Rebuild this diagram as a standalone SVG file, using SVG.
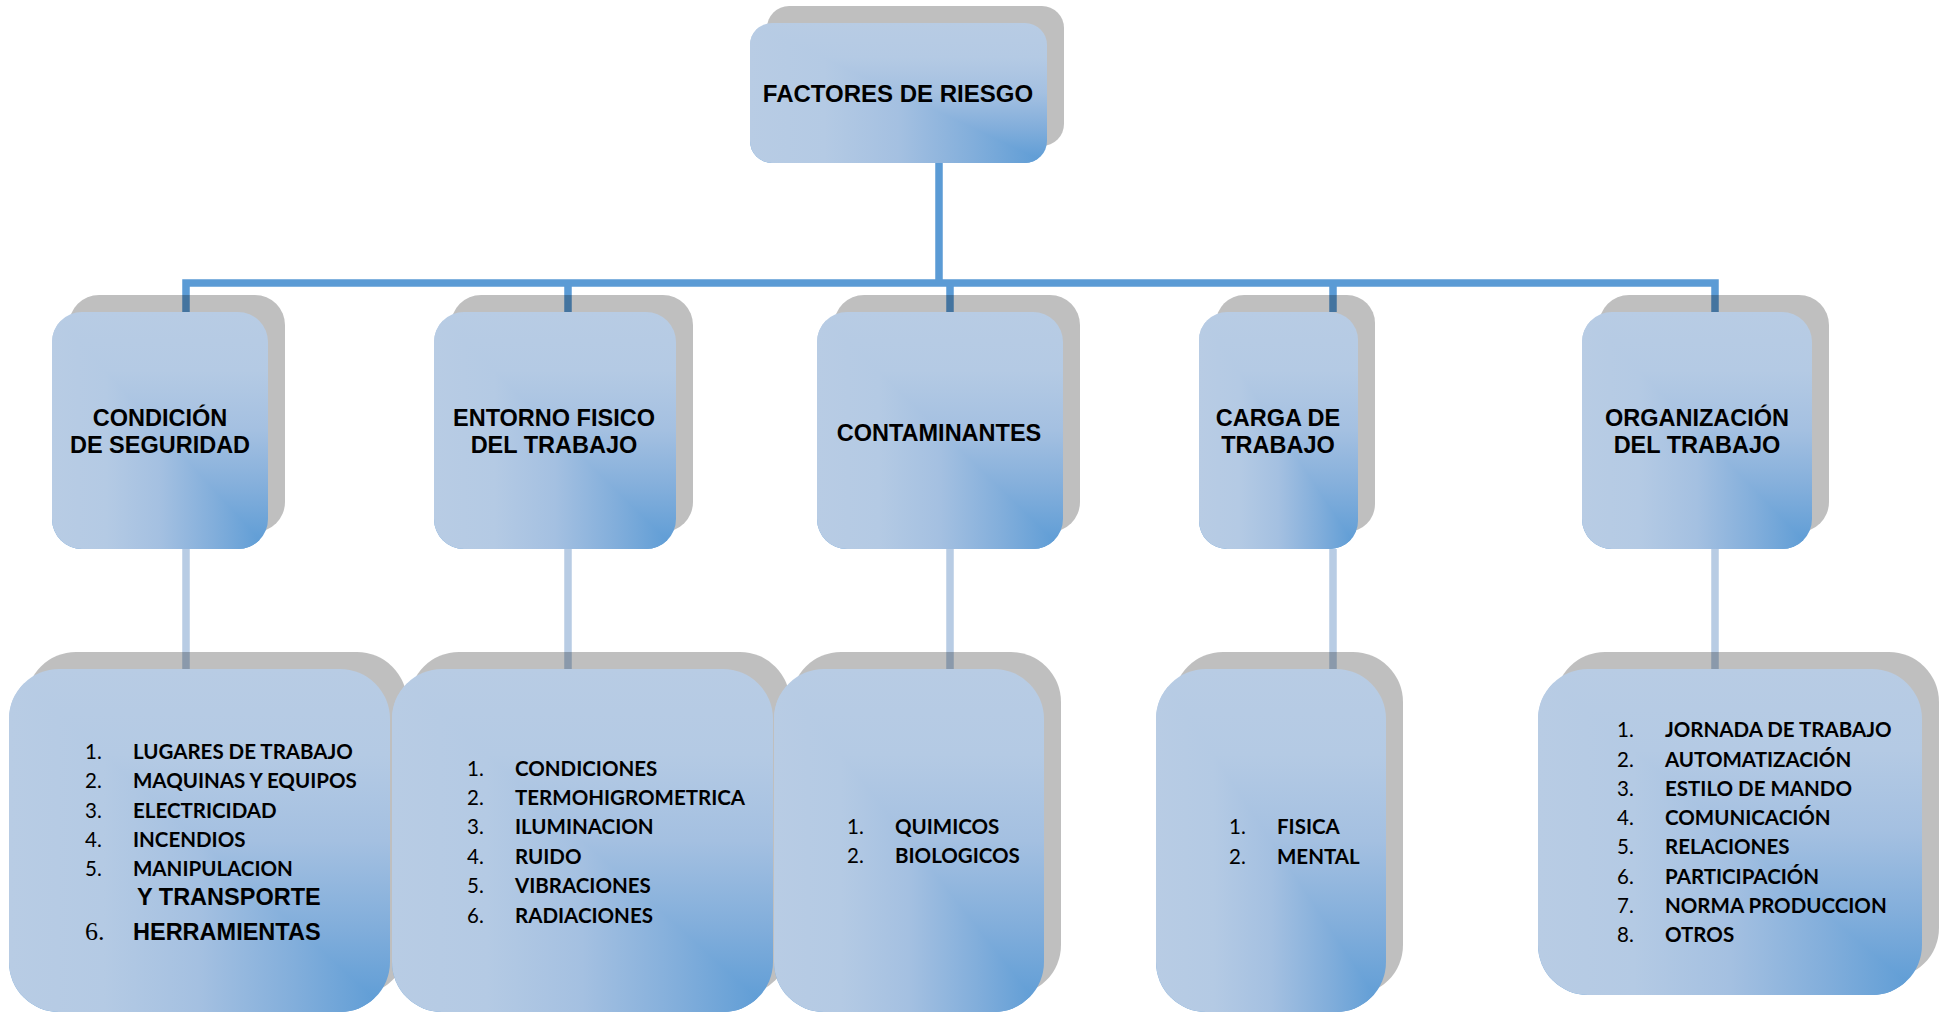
<svg xmlns="http://www.w3.org/2000/svg" width="1944" height="1013" viewBox="0 0 1944 1013">
<style>
.sh{fill:#000;fill-opacity:0.25}
.fv{fill:url(#gv)}
.fh{fill:url(#gh)}
.t{font-family:"Liberation Sans",Arial,sans-serif;font-weight:bold;font-size:23.5px;fill:#000;text-anchor:middle}
.li{font-family:Lato,"Noto Sans",sans-serif;font-weight:bold;font-size:20.5px;fill:#000}
.nu{font-family:Lato,"Noto Sans",sans-serif;font-size:20.5px;fill:#000}
.big{font-family:"Liberation Sans",Arial,sans-serif;font-weight:bold;font-size:23.5px;fill:#000}
.c1{fill:none;stroke:#5b9bd5;stroke-width:7.5}
.c2{fill:none;stroke:#b8cce4;stroke-width:7.5}
</style>
<defs>
<linearGradient id="gh" x1="0" y1="0" x2="1" y2="0">
<stop offset="0" stop-color="#b8cce4"/><stop offset="0.25" stop-color="#b4cae4"/><stop offset="0.5" stop-color="#a4c0e1"/><stop offset="0.75" stop-color="#82aedb"/><stop offset="1" stop-color="#5b9bd5"/>
</linearGradient>
<linearGradient id="gv" x1="0" y1="0" x2="0" y2="1">
<stop offset="0" stop-color="#b8cce4"/><stop offset="0.25" stop-color="#b4cae4"/><stop offset="0.5" stop-color="#a4c0e1"/><stop offset="0.75" stop-color="#82aedb"/><stop offset="1" stop-color="#5b9bd5"/>
</linearGradient>
<clipPath id="ll" clipPathUnits="objectBoundingBox"><polygon points="0,0 1,1 0,1"/></clipPath>
</defs>
<rect width="1944" height="1013" fill="#fff"/>
<g id="connectors">
<path class="c1" d="M939 163V283M186 312V283H1715V312M568 283V312M950 283V312M1333 283V312"/>
<path class="c2" d="M186 549V670M568 549V670M950 549V670M1333 549V670M1715 549V670"/>
</g>
<g id="n-factores">
<rect class="sh" x="767" y="6" width="297" height="140" rx="22"/>
<rect class="fv" x="750" y="23" width="297" height="140" rx="22"/>
<rect class="fh" x="750" y="23" width="297" height="140" rx="22" clip-path="url(#ll)"/>
<text class="t" x="898" y="102" style="font-size:24px">FACTORES DE RIESGO</text>
</g>
<g id="n-condicion">
<rect class="sh" x="69" y="295" width="216" height="237" rx="30"/>
<rect class="fv" x="52" y="312" width="216" height="237" rx="30"/>
<rect class="fh" x="52" y="312" width="216" height="237" rx="30" clip-path="url(#ll)"/>
<text class="t" x="160" y="426">CONDICIÓN</text>
<text class="t" x="160" y="453">DE SEGURIDAD</text>
</g>
<g id="n-entorno">
<rect class="sh" x="451" y="295" width="242" height="237" rx="30"/>
<rect class="fv" x="434" y="312" width="242" height="237" rx="30"/>
<rect class="fh" x="434" y="312" width="242" height="237" rx="30" clip-path="url(#ll)"/>
<text class="t" x="554" y="426">ENTORNO FISICO</text>
<text class="t" x="554" y="453">DEL TRABAJO</text>
</g>
<g id="n-contaminantes">
<rect class="sh" x="834" y="295" width="246" height="237" rx="30"/>
<rect class="fv" x="817" y="312" width="246" height="237" rx="30"/>
<rect class="fh" x="817" y="312" width="246" height="237" rx="30" clip-path="url(#ll)"/>
<text class="t" x="939" y="441">CONTAMINANTES</text>
</g>
<g id="n-carga">
<rect class="sh" x="1216" y="295" width="159" height="237" rx="28"/>
<rect class="fv" x="1199" y="312" width="159" height="237" rx="28"/>
<rect class="fh" x="1199" y="312" width="159" height="237" rx="28" clip-path="url(#ll)"/>
<text class="t" x="1278" y="426">CARGA DE</text>
<text class="t" x="1278" y="453">TRABAJO</text>
</g>
<g id="n-organizacion">
<rect class="sh" x="1599" y="295" width="230" height="237" rx="30"/>
<rect class="fv" x="1582" y="312" width="230" height="237" rx="30"/>
<rect class="fh" x="1582" y="312" width="230" height="237" rx="30" clip-path="url(#ll)"/>
<text class="t" x="1697" y="426">ORGANIZACIÓN</text>
<text class="t" x="1697" y="453">DEL TRABAJO</text>
</g>
<g id="l-condicion">
<rect class="sh" x="26" y="652" width="381" height="343" rx="50"/>
<rect class="fv" x="9" y="669" width="381" height="343" rx="50"/>
<rect class="fh" x="9" y="669" width="381" height="343" rx="50" clip-path="url(#ll)"/>
<text class="nu" x="85" y="759">1.</text><text class="li" x="133" y="759">LUGARES DE TRABAJO</text>
<text class="nu" x="85" y="788">2.</text><text class="li" x="133" y="788">MAQUINAS Y EQUIPOS</text>
<text class="nu" x="85" y="818">3.</text><text class="li" x="133" y="818">ELECTRICIDAD</text>
<text class="nu" x="85" y="847">4.</text><text class="li" x="133" y="847">INCENDIOS</text>
<text class="nu" x="85" y="876">5.</text><text class="li" x="133" y="876">MANIPULACION</text>
<text class="big" x="137" y="905">Y TRANSPORTE</text>
<text x="85" y="940" style="font-family:'Liberation Serif','Times New Roman',serif;font-size:26px;fill:#000">6.</text>
<text class="big" x="133" y="940">HERRAMIENTAS</text>
</g>
<g id="l-entorno">
<rect class="sh" x="409" y="652" width="381" height="343" rx="50"/>
<rect class="fv" x="392" y="669" width="381" height="343" rx="50"/>
<rect class="fh" x="392" y="669" width="381" height="343" rx="50" clip-path="url(#ll)"/>
<text class="nu" x="467" y="776">1.</text><text class="li" x="515" y="776">CONDICIONES</text>
<text class="nu" x="467" y="805">2.</text><text class="li" x="515" y="805">TERMOHIGROMETRICA</text>
<text class="nu" x="467" y="834">3.</text><text class="li" x="515" y="834">ILUMINACION</text>
<text class="nu" x="467" y="864">4.</text><text class="li" x="515" y="864">RUIDO</text>
<text class="nu" x="467" y="893">5.</text><text class="li" x="515" y="893">VIBRACIONES</text>
<text class="nu" x="467" y="923">6.</text><text class="li" x="515" y="923">RADIACIONES</text>
</g>
<g id="l-contaminantes">
<rect class="sh" x="791" y="652" width="270" height="343" rx="50"/>
<rect class="fv" x="774" y="669" width="270" height="343" rx="50"/>
<rect class="fh" x="774" y="669" width="270" height="343" rx="50" clip-path="url(#ll)"/>
<text class="nu" x="847" y="834">1.</text><text class="li" x="895" y="834">QUIMICOS</text>
<text class="nu" x="847" y="863">2.</text><text class="li" x="895" y="863">BIOLOGICOS</text>
</g>
<g id="l-carga">
<rect class="sh" x="1173" y="652" width="230" height="343" rx="50"/>
<rect class="fv" x="1156" y="669" width="230" height="343" rx="50"/>
<rect class="fh" x="1156" y="669" width="230" height="343" rx="50" clip-path="url(#ll)"/>
<text class="nu" x="1229" y="834">1.</text><text class="li" x="1277" y="834">FISICA</text>
<text class="nu" x="1229" y="864">2.</text><text class="li" x="1277" y="864">MENTAL</text>
</g>
<g id="l-organizacion">
<rect class="sh" x="1555" y="652" width="384" height="326" rx="50"/>
<rect class="fv" x="1538" y="669" width="384" height="326" rx="50"/>
<rect class="fh" x="1538" y="669" width="384" height="326" rx="50" clip-path="url(#ll)"/>
<text class="nu" x="1617" y="737">1.</text><text class="li" x="1665" y="737">JORNADA DE TRABAJO</text>
<text class="nu" x="1617" y="767">2.</text><text class="li" x="1665" y="767">AUTOMATIZACIÓN</text>
<text class="nu" x="1617" y="796">3.</text><text class="li" x="1665" y="796">ESTILO DE MANDO</text>
<text class="nu" x="1617" y="825">4.</text><text class="li" x="1665" y="825">COMUNICACIÓN</text>
<text class="nu" x="1617" y="854">5.</text><text class="li" x="1665" y="854">RELACIONES</text>
<text class="nu" x="1617" y="884">6.</text><text class="li" x="1665" y="884">PARTICIPACIÓN</text>
<text class="nu" x="1617" y="913">7.</text><text class="li" x="1665" y="913">NORMA PRODUCCION</text>
<text class="nu" x="1617" y="942">8.</text><text class="li" x="1665" y="942">OTROS</text>
</g>
</svg>
